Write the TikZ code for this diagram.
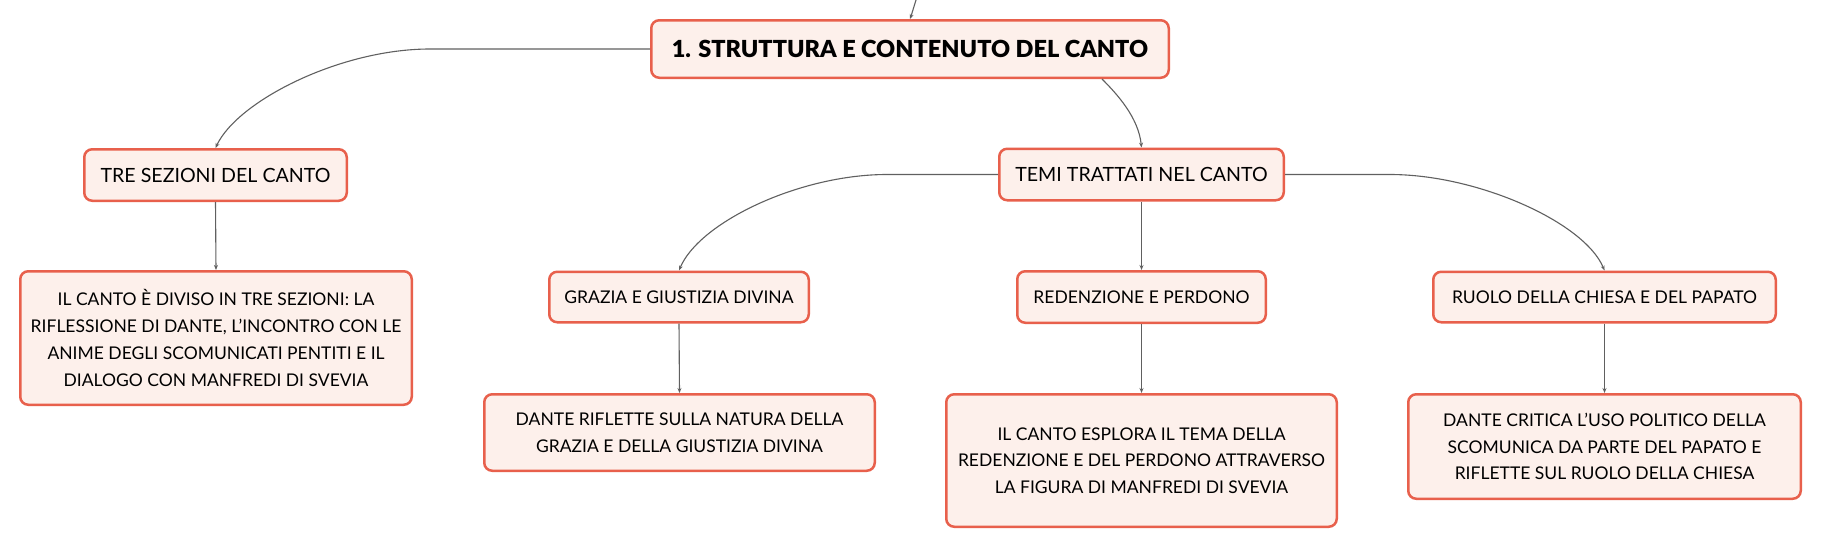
\documentclass[tikz,border=0pt]{standalone}
\usepackage{fontspec}
\setmainfont{Lato}
\newfontface\rootfont{Lato Black}
\usetikzlibrary{arrows.meta}
\definecolor{boxred}{HTML}{E8604C}
\definecolor{boxfill}{HTML}{FDF0EB}
\definecolor{linegray}{HTML}{606060}
\tikzset{
  box/.style={draw=boxred, fill=boxfill, line width=2.5pt, rounded corners=8pt,
    align=center, inner sep=0pt, text=black,
    font=\fontsize{17.5}{26.7}\selectfont},
  midbox/.style={box, font=\fontsize{19.6}{26.7}\selectfont},
  rootbox/.style={box, font=\rootfont\fontsize{23.5}{30}\selectfont},
  conn/.style={draw=linegray, line width=1.1pt, -{Stealth[length=5pt,width=4pt]}},
}
\begin{document}
\begin{tikzpicture}[x=1pt,y=-1pt]
\useasboundingbox (0,0) rectangle (1821,549);
\fill[white] (0,0) rectangle (1821,549);
\node[rootbox, minimum width=517.5pt, minimum height=57.5pt] (root) at (910,49) {1. STRUTTURA E CONTENUTO DEL CANTO};
\node[midbox, minimum width=262.5pt, minimum height=51.5pt] (tre) at (215.5,175) {TRE SEZIONI DEL CANTO};
\node[box, minimum width=391.5pt, minimum height=133.5pt] (c1) at (216,338) {IL CANTO È DIVISO IN TRE SEZIONI: LA\\RIFLESSIONE DI DANTE, L'INCONTRO CON LE\\ANIME DEGLI SCOMUNICATI PENTITI E IL\\DIALOGO CON MANFREDI DI SVEVIA};
\node[midbox, minimum width=284.5pt, minimum height=51.5pt] (temi) at (1141.5,174.5) {TEMI TRATTATI NEL CANTO};
\node[box, minimum width=259.5pt, minimum height=50.5pt] (grazia) at (679,297) {GRAZIA E GIUSTIZIA DIVINA};
\node[box, minimum width=390.5pt, minimum height=76.5pt] (c2) at (679.5,432.5) {DANTE RIFLETTE SULLA NATURA DELLA\\GRAZIA E DELLA GIUSTIZIA DIVINA};
\node[box, minimum width=248.5pt, minimum height=51.5pt] (red) at (1141.5,297) {REDENZIONE E PERDONO};
\node[box, minimum width=390.5pt, minimum height=132.5pt] (c3) at (1141.5,460.5) {IL CANTO ESPLORA IL TEMA DELLA\\REDENZIONE E DEL PERDONO ATTRAVERSO\\LA FIGURA DI MANFREDI DI SVEVIA};
\node[box, minimum width=342.5pt, minimum height=50.5pt] (ruolo) at (1604.5,297) {RUOLO DELLA CHIESA E DEL PAPATO};
\node[box, minimum width=392.5pt, minimum height=104.5pt] (c4) at (1604.5,446.5) {DANTE CRITICA L'USO POLITICO DELLA\\SCOMUNICA DA PARTE DEL PAPATO E\\RIFLETTE SUL RUOLO DELLA CHIESA};
\coordinate (top) at (916,0);
\draw[conn] (top) .. controls (914,8) .. (root.north);
\draw[conn] (root.west) -- ++(-220,0) .. controls +(-90,0) and +(22,-47) .. (tre.north);
\draw[conn] ([xshift=192pt]root.south) .. controls +(15,15) and +(-3,-30) .. (temi.north);
\draw[conn] (temi.west) -- ++(-111,0) .. controls +(-88,0) and +(20,-48) .. (grazia.north);
\draw[conn] (temi.east) -- ++(105,0) .. controls +(88,0) and +(-20,-48) .. (ruolo.north);
\draw[conn] (temi.south) -- (red.north);
\draw[conn] (tre.south) -- (c1.north);
\draw[conn] (grazia.south) -- (c2.north);
\draw[conn] (red.south) -- (c3.north);
\draw[conn] (ruolo.south) -- (c4.north);
\end{tikzpicture}
\end{document}
